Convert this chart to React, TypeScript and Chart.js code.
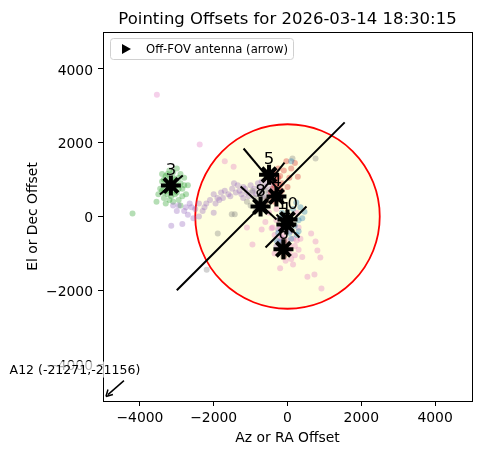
import React, { useEffect, useRef } from "react";
import { Chart, registerables } from "chart.js";
Chart.register(...registerables);

const FONT = "'DejaVu Sans', 'Liberation Sans', sans-serif";
const titleText = "Pointing Offsets for 2026-03-14 18:30:15";
const xLabel = "Az or RA Offset";
const yLabel = "El or Dec Offset";
const legendText = "Off-FOV antenna (arrow)";
const offFovText = "A12 (-21271,-21156)";
const offFovTip = [-4920, -4880];
const tickValues = [-4000, -2000, 0, 2000, 4000];
const axisMin = -5000;
const axisMax = 5000;
const fovRadius = 2500;

const greenPts = [[-3300,1100],[-3100,1200],[-2950,1050],[-3400,950],[-3250,700],[-3000,650],[-2900,900],[-3350,500],[-3150,550],[-3050,1000],[-3200,1000],[-2850,750],[-3450,750],[-3300,350],[-3100,400],[-2950,450],[-3500,600],[-3200,1250],[-3000,1300],[-2800,1050],[-2750,600],[-3400,1150],[-3150,750],[-3050,850],[-3250,900],[-2900,300],[-3550,400],[-4200,80],[-3350,650],[-2950,750],[-3100,1050],[-3250,1150],[-2700,850],[-3150,950],[-3000,850],[-3300,800],[-2850,550],[-3200,450],[-3050,600],[-3400,700],[-2900,1150],[-3350,1000],[-2800,850],[-3100,700],[-3250,600]];
const purplePts = [[-2950,300],[-2800,150],[-2700,50],[-2600,250],[-2500,200],[-2400,0],[-2300,150],[-2200,350],[-2100,450],[-2000,600],[-1900,500],[-1800,650],[-1700,700],[-1600,600],[-1500,750],[-1400,650],[-1300,700],[-1200,800],[-1100,650],[-1000,850],[-900,750],[-800,900],[-700,700],[-600,800],[-500,650],[-400,900],[-2850,-200],[-3100,300],[-2650,350],[-1950,350],[-1750,500],[-1050,550],[-850,600],[-2000,100],[-1200,500],[-2400,350],[-700,950],[-3000,150],[-1450,900],[-650,550],[-2550,-50],[-3150,-250],[-250,-350],[-150,-600],[-300,-800],[-1350,850],[-1150,750],[-950,650],[-750,800],[-550,900],[-1250,600],[-1550,550],[-1850,450],[-2250,250],[-2750,250],[-450,750]];
const pinkPts = [[640,-460],[760,-680],[810,-920],[890,-1110],[540,-1630],[730,-1570],[920,-1950],[-2380,1950],[-1460,1350],[-3540,3300],[-200,-300],[-100,-500],[0,-650],[100,-400],[-300,-100],[-250,-700],[200,-800],[300,-300],[50,-1000],[-50,-1200],[150,-1300],[400,-1100],[-400,-300],[-500,100],[250,100],[350,-600],[-150,-900],[100,-200],[-950,-760],[-430,-320],[-1100,-300],[-350,-1000],[-700,-350],[-200,-1400],[-1700,1500],[150,-600],[-100,-750],[200,-1050],[-350,-500],[-200,-550],[50,-800],[250,-650],[-50,-350],[300,-900],[-300,200],[-600,-150],[100,-1150]];
const redPts = [[-30,1500],[200,1450],[280,1080],[-400,1200],[-300,1000],[-200,1100],[-350,850],[-250,750],[-450,950],[-150,900],[-300,600],[-400,500],[-200,650],[-100,1250],[100,1300],[-500,1050],[0,800],[-250,1300],[-350,400],[50,1050],[-300,900],[-250,1050],[-400,750],[-150,700],[-350,1150],[-200,850],[-450,650],[-300,450]];
const brownPts = [[-100,-700],[-120,-800],[-90,-900],[-110,-1000],[-80,-1050],[-130,-750],[-100,-950],[-60,-850],[-600,350],[-550,450],[-650,250],[-110,-1100],[-90,-650]];
const bluePts = [[460,130],[240,380],[300,-100],[200,-250],[-100,-300],[-250,-450],[100,-600],[400,-50],[-200,-50],[150,200],[350,250],[-300,-650],[-150,100],[50,-450],[250,-500],[100,1500],[-200,-700],[300,-400]];
const grayPts = [[-1890,-460],[-1510,60],[-1430,60],[760,1570],[135,1570],[-2190,-1440],[-900,500],[-800,350],[-1000,300],[-700,650],[-850,150],[-600,700],[-950,700],[-1100,400],[-200,-50],[-750,450],[-650,500]];

const starX = [-3160, -500, -730, -300, 0, -30, -110];
const starY = [840, 1130, 270, 540, -80, -220, -890];
const starLabels = ["3", "5", "8", "4", "10", "1", "6"];

const lineSegments = [
  [-3000, -2000, 1550, 2550],
  [-1190, 1843, -216, 678],
  [-810, 542, -81, 1463],
  [-1270, 813, -297, -81],
  [514, 271, -595, -840],
  [-297, 54, 324, -569],
  [-3460, 596, -2838, 1111],
];

const toXY = (arr: number[][]) => arr.map(([x, y]) => ({ x, y }));

export default function App() {
  const ref = useRef<HTMLCanvasElement | null>(null);
  useEffect(() => {
    if (!ref.current) return;
    const scatterSet = (pts: number[][], color: string, order: number) => ({
      type: "scatter" as const,
      data: toXY(pts),
      backgroundColor: color,
      borderWidth: 0,
      pointRadius: 3,
      order,
    });
    const lineSets = lineSegments.map((s) => ({
      type: "scatter" as const,
      data: [{ x: s[0], y: s[1] }, { x: s[2], y: s[3] }],
      showLine: true,
      borderColor: "#000",
      borderWidth: 2,
      pointRadius: 0,
      order: 1,
    }));
    const overlay = {
      id: "overlay",
      beforeDatasetsDraw(chart: any) {
        const { ctx, chartArea: a, scales } = chart;
        const cx = scales.x.getPixelForValue(0);
        const cy = scales.y.getPixelForValue(0);
        const r = scales.x.getPixelForValue(fovRadius) - cx;
        ctx.save();
        ctx.beginPath();
        ctx.rect(a.left, a.top, a.right - a.left, a.bottom - a.top);
        ctx.clip();
        ctx.beginPath();
        ctx.arc(cx, cy, r, 0, Math.PI * 2);
        ctx.fillStyle = "#ffffe0";
        ctx.fill();
        ctx.strokeStyle = "#ff0000";
        ctx.lineWidth = 1.8;
        ctx.stroke();
        ctx.restore();
      },
      afterDatasetsDraw(chart: any) {
        const { ctx, chartArea: a, scales } = chart;
        ctx.save();
        ctx.fillStyle = "#000";
        ctx.font = `16.5px ${FONT}`;
        ctx.textAlign = "center";
        ctx.textBaseline = "middle";
        starLabels.forEach((t, i) => {
          const px = scales.x.getPixelForValue(starX[i]);
          const py = scales.y.getPixelForValue(starY[i]);
          ctx.fillText(t, px, py - 15);
        });
        ctx.strokeStyle = "#000";
        ctx.lineWidth = 1;
        ctx.strokeRect(Math.round(a.left) + 0.5, Math.round(a.top) + 0.5, Math.round(a.right - a.left), Math.round(a.bottom - a.top));
        const lx = a.left + 7, ly = a.top + 6, lw = 183, lh = 21;
        ctx.beginPath();
        ctx.roundRect(lx + 0.5, ly + 0.5, lw, lh, 3);
        ctx.fillStyle = "rgba(255,255,255,0.8)";
        ctx.fill();
        ctx.strokeStyle = "#d0d0d0";
        ctx.lineWidth = 1;
        ctx.stroke();
        ctx.beginPath();
        const mx = lx + 16, my = ly + lh / 2 + 0.5;
        ctx.moveTo(mx - 4, my - 5);
        ctx.lineTo(mx + 5, my);
        ctx.lineTo(mx - 4, my + 5);
        ctx.closePath();
        ctx.fillStyle = "#000";
        ctx.fill();
        ctx.font = `11.6px ${FONT}`;
        ctx.textAlign = "left";
        ctx.textBaseline = "middle";
        ctx.fillText(legendText, lx + 36, my + 1);
        const tx = scales.x.getPixelForValue(offFovTip[0]);
        const ty = scales.y.getPixelForValue(offFovTip[1]);
        ctx.font = `12.5px ${FONT}`;
        const tw = ctx.measureText(offFovText).width;
        const textCx = tx - 31, textCy = ty - 27;
        ctx.fillStyle = "rgba(255,255,255,0.7)";
        ctx.fillRect(textCx - tw / 2 - 2, textCy - 8, tw + 4, 16);
        ctx.fillStyle = "#000";
        ctx.textAlign = "center";
        ctx.fillText(offFovText, textCx, textCy + 1);
        ctx.strokeStyle = "#000";
        ctx.lineWidth = 1.5;
        ctx.beginPath();
        ctx.moveTo(tx + 18, ty - 16);
        ctx.lineTo(tx + 2, ty - 2);
        ctx.stroke();
        ctx.beginPath();
        ctx.moveTo(tx, ty);
        ctx.lineTo(tx + 2, ty - 7);
        ctx.moveTo(tx, ty);
        ctx.lineTo(tx + 7, ty - 2);
        ctx.stroke();
        ctx.font = `16.5px ${FONT}`;
        ctx.textAlign = "center";
        ctx.textBaseline = "middle";
        ctx.fillText(titleText, (a.left + a.right) / 2, 20);
        ctx.restore();
      },
    };
    const fmt = (v: number) => (v < 0 ? "\u2212" + Math.abs(v) : String(v));
    const axisCommon = (title: string, isX: boolean) => ({
      type: "linear" as const,
      min: axisMin,
      max: axisMax,
      afterBuildTicks: (s: any) => {
        s.ticks = tickValues.map((v) => ({ value: v }));
      },
      afterFit: (s: any) => {
        if (isX) s.height = 54;
        else s.width = 103;
      },
      grid: { display: true, drawOnChartArea: false, drawTicks: true, tickLength: 5, color: "#000", lineWidth: 1 },
      border: { display: false },
      ticks: {
        color: "#000",
        font: { family: FONT, size: 13.9 },
        padding: isX ? 4 : 5,
        labelOffset: isX ? 0 : 2,
        maxRotation: 0,
        callback: (v: any) => fmt(Number(v)),
      },
      title: {
        display: true,
        text: title,
        color: "#000",
        font: { family: FONT, size: 13.9 },
        padding: isX ? { top: 0, bottom: 8 } : { top: 25, bottom: 0 },
      },
    });
    const chart = new Chart(ref.current, {
      type: "scatter",
      data: {
        datasets: [
          {
            type: "scatter",
            data: starX.map((x, i) => ({ x, y: starY[i] })),
            pointStyle: "star",
            pointRadius: 10,
            borderColor: "#000",
            backgroundColor: "#000",
            borderWidth: 4,
            order: 0,
          },
          ...lineSets,
          scatterSet(bluePts, "rgba(31,119,180,0.35)", 2),
          scatterSet(brownPts, "rgba(140,86,75,0.45)", 3),
          scatterSet(redPts, "rgba(214,39,40,0.35)", 4),
          scatterSet(pinkPts, "rgba(227,119,194,0.35)", 5),
          scatterSet(grayPts, "rgba(127,127,127,0.35)", 6),
          scatterSet(purplePts, "rgba(148,103,189,0.35)", 7),
          scatterSet(greenPts, "rgba(44,160,44,0.35)", 8),
        ] as any,
      },
      options: {
        animation: false,
        responsive: false,
        layout: { padding: { top: 32, right: 12, left: 0, bottom: 0 } },
        plugins: { legend: { display: false }, tooltip: { enabled: false }, title: { display: false } },
        scales: { x: axisCommon(xLabel, true), y: axisCommon(yLabel, false) } as any,
      },
      plugins: [overlay],
    });
    return () => chart.destroy();
  }, []);
  return (
    <div style={{ position: "fixed", left: 0, top: 0, width: 486, height: 455, background: "#fff" }}>
      <canvas ref={ref} width={486} height={455} style={{ display: "block" }} />
    </div>
  );
}
